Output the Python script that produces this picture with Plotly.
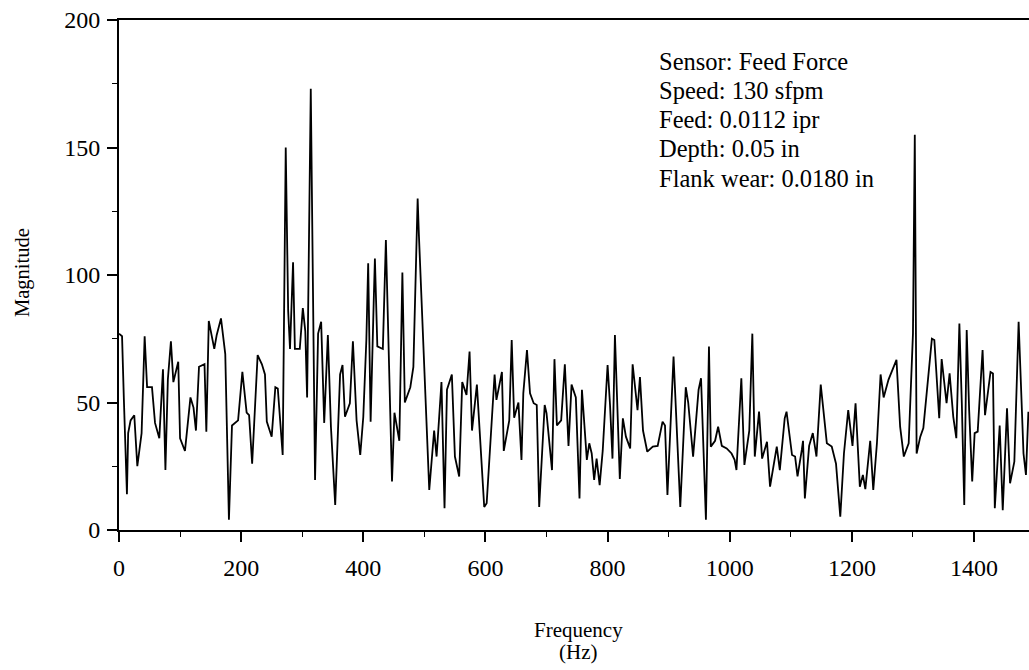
import plotly.graph_objects as go

# Feed-force spectrum: frequency (Hz) and magnitude
freq_hz = [
    0, 5, 8, 13, 15, 19, 25, 30, 37, 42, 46, 54, 59, 66, 72, 76, 80, 85, 89, 97,
    100, 108, 117, 122, 126, 131, 140, 143, 147, 156, 160, 167, 174, 180, 185, 195,
    202, 209, 213, 218, 227, 234, 239, 242, 250, 256, 260, 268, 273, 277, 280, 285,
    288, 296, 301, 305, 308, 314, 321, 326, 331, 336, 342, 347, 354, 362, 366, 370,
    378, 383, 389, 395, 400, 405, 408, 412, 417, 419, 423, 432, 437, 441, 447, 451,
    459, 462, 464, 468, 477, 482, 489, 491, 498, 508, 516, 520, 528, 533, 537, 545,
    550, 557, 562, 569, 574, 578, 586, 591, 598, 602, 609, 615, 618, 627, 630, 639,
    643, 647, 654, 659, 662, 668, 673, 679, 684, 688, 697, 700, 709, 713, 717, 724,
    730, 736, 741, 746, 748, 754, 758, 766, 770, 774, 778, 782, 787, 792, 800, 804,
    808, 812, 820, 825, 830, 837, 841, 849, 853, 858, 865, 874, 882, 890, 894, 898,
    908, 919, 928, 932, 940, 949, 953, 961, 966, 969, 976, 981, 987, 995, 1003, 1008,
    1011, 1019, 1024, 1032, 1037, 1041, 1048, 1053, 1061, 1066, 1072, 1077, 1082, 1090,
    1093, 1102, 1107, 1111, 1118, 1120, 1123, 1130, 1136, 1142, 1149, 1159, 1167, 1174,
    1181, 1187, 1194, 1201, 1206, 1213, 1218, 1222, 1230, 1235, 1241, 1247, 1252, 1260,
    1273, 1279, 1285, 1293, 1300, 1303, 1306, 1312, 1317, 1324, 1331, 1335, 1343, 1347,
    1355, 1360, 1366, 1371, 1376, 1380, 1384, 1388, 1392, 1397, 1401, 1406, 1414, 1418,
    1427, 1431, 1434, 1442, 1447, 1454, 1459, 1466, 1473, 1481, 1485, 1489,
]
magnitude = [
    77, 76, 51, 14, 38, 43, 45, 25, 38, 76, 56, 56, 42, 36, 63, 23.5, 59, 74, 58, 66,
    36, 31, 52, 48, 39, 64, 65, 38.5, 82, 71, 76.5, 83, 69, 4, 41, 43,
    62, 46, 45, 26, 68.6, 65, 61, 42.5, 36.6, 56, 55.5, 29.4, 150, 86, 71, 105,
    71, 71, 87, 78, 52, 173, 19.6, 77, 81.7, 42, 76.5, 40.5, 9.8, 61, 64.7, 44.4,
    49.7, 74, 43, 29.4, 44.4, 74.5, 104.6, 42.5, 89, 106.5, 72, 71, 113.7, 74.5, 19, 46,
    35, 74.5, 101, 50, 56, 64, 130, 116, 73, 15.7, 39, 28.8, 58, 8.5, 55, 61,
    28.8, 21, 58, 53, 70, 39, 57, 38, 9, 10.5, 39, 61, 51, 62, 31, 43,
    74.5, 44, 50, 27.5, 53.6, 70.6, 53.6, 49.7, 49, 9, 49, 45.8, 23.5, 67, 41, 43,
    65, 33, 57, 53.6, 52, 12.4, 55, 27.5, 34, 30, 19.6, 28, 17.6, 31, 64.7, 49,
    28, 76.5, 20, 43.8, 36.6, 32, 65, 47, 60, 39, 30.7, 32.7, 33, 42.5, 41, 13.7,
    68, 9, 56, 50, 28.8, 55, 59.5, 4, 72, 32.7, 35, 40.5, 33, 32, 30, 27.5,
    23.5, 59.5, 25.5, 39, 77, 28.8, 46.4, 28, 34.6, 17, 24.8, 32.7, 23.5, 43.8,
    46.4, 29.4, 28.8, 21, 31.4, 35, 12.4, 33, 38, 28.8, 57, 34, 32.7, 26,
    5.2, 30, 47, 33, 49.7, 17, 21.6, 16, 35, 15.7, 34, 61, 52, 59,
    66.7, 40.5, 28.8, 34, 77, 155, 30, 36.6, 40, 58, 75, 74.5, 43.8, 67,
    49.7, 61.4, 44.4, 36, 81, 49.7, 9.8, 78.4, 47, 19, 38, 38.6, 70.6, 45,
    62, 61.4, 8.5, 41, 7.8, 47.7, 18.3, 26.8, 81.7, 30, 21.6, 46.4,
]

x_ticks = [0, 200, 400, 600, 800, 1000, 1200, 1400]
x_minor = [100, 300, 500, 700, 900, 1100, 1300]
y_ticks = [0, 50, 100, 150, 200]
y_minor = [25, 75, 125, 175]

info_lines = [
    "Sensor: Feed Force",
    "Speed: 130 sfpm",
    "Feed: 0.0112 ipr",
    "Depth: 0.05 in",
    "Flank wear: 0.0180 in",
]

serif = "Liberation Serif, Times New Roman, serif"

# plot-area geometry in pixels (used to place the free text)
L, R, T, B = 119, 0, 20, 140
W, H = 1029, 670
PW, PH = W - L - R, H - T - B


def px_x(px):
    return (px - L) / PW


def px_y(py):
    return (H - B - py) / PH


fig = go.Figure()
fig.add_trace(go.Scatter(
    x=freq_hz, y=magnitude, mode="lines",
    line=dict(color="black", width=1.8),
    showlegend=False, hoverinfo="skip",
))

axis_common = dict(
    showgrid=False, zeroline=False,
    showline=True, linecolor="black", linewidth=1.8,
    ticks="outside", ticklen=10, tickwidth=1.5, tickcolor="black",
    tickfont=dict(size=24, family=serif, color="black"),
)

fig.update_layout(
    width=W, height=H,
    margin=dict(l=L, r=R, t=T, b=B),
    paper_bgcolor="white", plot_bgcolor="white",
    font=dict(family=serif, size=22, color="black"),
    xaxis=dict(
        range=[0, 1490], tickvals=x_ticks, ticktext=[str(v) for v in x_ticks],
        mirror=True, ticklabelstandoff=5,
        minor=dict(tickvals=x_minor, ticks="outside", ticklen=5,
                   tickwidth=1.3, tickcolor="black"),
        **axis_common,
    ),
    yaxis=dict(
        range=[0, 200], tickvals=y_ticks, ticktext=[str(v) for v in y_ticks],
        mirror=False, ticklabelstandoff=2,
        minor=dict(tickvals=y_minor, ticks="outside", ticklen=5,
                   tickwidth=1.3, tickcolor="black"),
        **axis_common,
    ),
)

annotations = []
# condition block, one line each
for i, line in enumerate(info_lines):
    annotations.append(dict(
        xref="paper", yref="paper", x=px_x(657), y=px_y(61 + i * 29.3),
        xanchor="left", yanchor="middle", text=line, showarrow=False,
        font=dict(size=24.5, family=serif, color="black"),
    ))
# axis titles
annotations.append(dict(
    xref="paper", yref="paper", x=px_x(22), y=px_y(273),
    xanchor="center", yanchor="middle", text="Magnitude", textangle=-90,
    showarrow=False, font=dict(size=20.5, family=serif, color="black"),
))
annotations.append(dict(
    xref="paper", yref="paper", x=px_x(578), y=px_y(630),
    xanchor="center", yanchor="middle", text="Frequency",
    showarrow=False, font=dict(size=21, family=serif, color="black"),
))
annotations.append(dict(
    xref="paper", yref="paper", x=px_x(578), y=px_y(652),
    xanchor="center", yanchor="middle", text="(Hz)",
    showarrow=False, font=dict(size=21, family=serif, color="black"),
))
fig.update_layout(annotations=annotations)

fig.write_html("out.html")
